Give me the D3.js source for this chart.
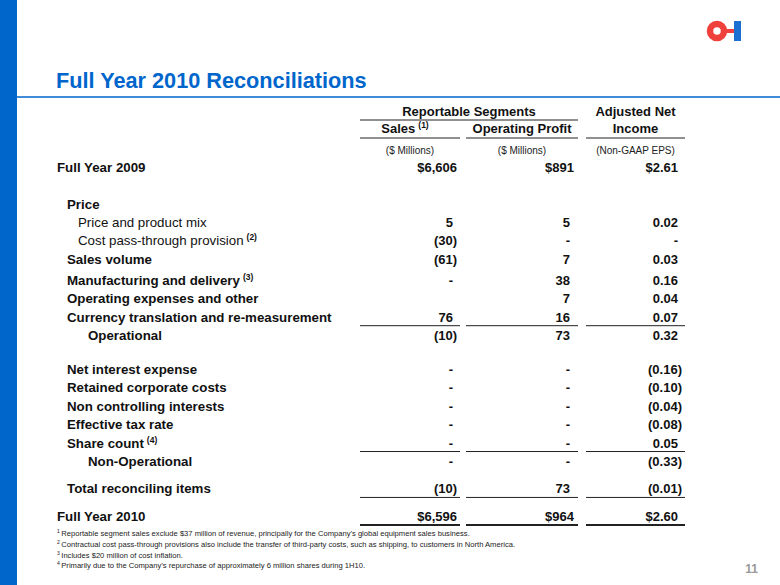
<!DOCTYPE html>
<html>
<head>
<meta charset="utf-8">
<script src="https://cdn.jsdelivr.net/npm/d3@7"></script>
<style>
  body { margin: 0; background: #fff; }
  svg { display: block; font-family: "Liberation Sans", Arial, Helvetica, sans-serif; }
</style>
</head>
<body>
<div id="chart"></div>
<script>
// data
const rowLabels = ["Full Year 2009", "Price", "Price and product mix", "Cost pass-through provision",
  "Sales volume", "Manufacturing and delivery", "Operating expenses and other",
  "Currency translation and re-measurement", "Operational", "Net interest expense",
  "Retained corporate costs", "Non controlling interests", "Effective tax rate", "Share count",
  "Non-Operational", "Total reconciling items", "Full Year 2010"];
const rowNotes = ["", "", "", "(2)", "", "(3)", "", "", "", "", "", "", "", "(4)", "", "", ""];
const salesValues  = [6606, null, 5, -30, -61, 0, null, 76, -10, 0, 0, 0, 0, 0, 0, -10, 6596];
const profitValues = [891, null, 5, 0, 7, 38, 7, 16, 73, 0, 0, 0, 0, 0, 0, 73, 964];
const epsValues    = [2.61, null, 0.02, 0, 0.03, 0.16, 0.04, 0.07, 0.32, -0.16, -0.10, -0.04, -0.08, 0.05, -0.33, -0.01, 2.60];
const columnNames = ["Sales", "Operating Profit", "Income"];
const columnNotes = ["(1)", "", ""];
const columnUnits = ["($ Millions)", "($ Millions)", "(Non-GAAP EPS)"];
const footnotes = [
  ["1", "Reportable segment sales exclude $37 million of revenue, principally for the Company\u2019s global equipment sales business."],
  ["2", "Contractual cost pass-through provisions also include the transfer of third-party costs, such as shipping, to customers in North America."],
  ["3", "Includes $20 million of cost inflation."],
  ["4", "Primarily due to the Company\u2019s repurchase of approximately 6 million shares during 1H10."]
];

// layout (not data)
const rowLevel = [0, 1, 2, 2, 1, 1, 1, 1, 3, 1, 1, 1, 1, 1, 3, 1, 0];
const rowSlot = [0, 2, 3, 4, 5, 6.15, 7.15, 8.15, 9.15, 11, 12, 13, 14, 15, 16, 17.5, 19];
const ruledRows = [7, 13, 15, 16];

const W = 780, H = 585;
const blue = "#0066cc";

const svg = d3.select("#chart").append("svg")
  .attr("width", W).attr("height", H);

// left band and title rule
svg.append("rect").attr("x", 0).attr("y", 0).attr("width", 17).attr("height", H).attr("fill", blue);
svg.append("line").attr("x1", 17).attr("x2", W).attr("y1", 97).attr("y2", 97)
  .attr("stroke", blue).attr("stroke-width", 1.6);

svg.append("text").attr("x", 56).attr("y", 88)
  .attr("font-size", 21.7).attr("font-weight", "bold").attr("fill", blue)
  .text("Full Year 2010 Reconciliations");

// logo
const logo = svg.append("g");
logo.append("circle").attr("cx", 717).attr("cy", 31).attr("r", 7)
  .attr("fill", "none").attr("stroke", "#f0403c").attr("stroke-width", 6.5);
logo.append("rect").attr("x", 726).attr("y", 29).attr("width", 8).attr("height", 4).attr("fill", "#f0403c");
logo.append("rect").attr("x", 734).attr("y", 21).attr("width", 7).attr("height", 20).attr("fill", "#1a6fd0");

// scales
const y = d3.scaleLinear().domain([0, 19]).range([172, 521]);
const colRight = d3.scaleOrdinal().domain([0, 1, 2]).range([457, 574, 682]);
const colLeft = d3.scaleOrdinal().domain([0, 1, 2]).range([360, 466, 586]);
const colEnd = d3.scaleOrdinal().domain([0, 1, 2]).range([460, 578, 685]);
const indent = d3.scaleOrdinal().domain([0, 1, 2, 3]).range([57, 67, 78, 88]);
const colMid = c => (colLeft(c) + colEnd(c)) / 2;

// header
const head = svg.append("g").attr("font-weight", "bold").attr("font-size", 13).attr("fill", "#111");
head.append("text").attr("x", (colLeft(0) + colEnd(1)) / 2).attr("y", 116)
  .attr("text-anchor", "middle").text("Reportable Segments");
head.append("text").attr("x", colMid(2)).attr("y", 116)
  .attr("text-anchor", "middle").text("Adjusted Net");
head.append("line").attr("x1", colLeft(0)).attr("x2", colEnd(1)).attr("y1", 120).attr("y2", 120)
  .attr("stroke", "#222").attr("stroke-width", 1);

columnNames.forEach((name, c) => {
  const t = head.append("text").attr("x", colMid(c) - (columnNotes[c] ? 5 : 0)).attr("y", 133)
    .attr("text-anchor", "middle");
  t.append("tspan").text(name);
  if (columnNotes[c]) {
    t.append("tspan").attr("dx", 3).attr("dy", -5).attr("font-size", 8.5).text(columnNotes[c]);
  }
  head.append("line").attr("x1", colLeft(c)).attr("x2", colEnd(c)).attr("y1", 138).attr("y2", 138)
    .attr("stroke", "#222").attr("stroke-width", 1);
  svg.append("text").attr("x", colMid(c)).attr("y", 154)
    .attr("text-anchor", "middle").attr("font-size", 10).attr("fill", "#222")
    .text(columnUnits[c]);
});

// number formats
function fmt(v, c, isTotal) {
  if (v === null) return "";
  if (v === 0) return "-";
  const s = c === 2 ? d3.format(",.2f")(Math.abs(v)) : d3.format(",")(Math.abs(v));
  if (v < 0) return "(" + s + ")";
  return isTotal ? "$" + s : s;
}

// rows
const rows = svg.append("g").attr("font-size", 13.3).attr("fill", "#111");
rowLabels.forEach((label, i) => {
  const by = y(rowSlot[i]);
  const t = rows.append("text").attr("x", indent(rowLevel[i])).attr("y", by)
    .attr("font-weight", rowLevel[i] === 2 ? "normal" : "bold");
  t.append("tspan").text(label);
  if (rowNotes[i]) {
    t.append("tspan").attr("dx", 3).attr("dy", -5).attr("font-size", 8.5)
      .attr("font-weight", "bold").text(rowNotes[i]);
  }
  const isTotal = label.startsWith("Full Year");
  [salesValues, profitValues, epsValues].forEach((series, c) => {
    const v = series[i];
    const s = fmt(v, c, isTotal);
    if (!s) return;
    const pad = (v < 0 || (isTotal && c < 2)) ? 0 : 4;
    rows.append("text").attr("x", colRight(c) - pad).attr("y", by)
      .attr("text-anchor", "end").attr("font-weight", "bold").attr("font-size", 13).text(s);
  });
  if (ruledRows.includes(i)) {
    [0, 1, 2].forEach(c => {
      rows.append("line").attr("x1", colLeft(c)).attr("x2", colEnd(c))
        .attr("y1", by + 4).attr("y2", by + 4)
        .attr("stroke", "#222").attr("stroke-width", i === 16 ? 2.2 : 1);
    });
  }
});

// footnotes
const foot = svg.append("g").attr("font-size", 7.6).attr("fill", "#222");
footnotes.forEach(([n, txt], i) => {
  const t = foot.append("text").attr("x", 57).attr("y", 536 + i * 10.8);
  t.append("tspan").attr("font-size", 5).attr("dy", -3).text(n);
  t.append("tspan").attr("dx", 1.5).attr("dy", 3).text(txt);
});

svg.append("text").attr("x", 758).attr("y", 573).attr("text-anchor", "end")
  .attr("font-size", 12).attr("font-weight", "bold").attr("fill", "#999").text("11");
</script>
</body>
</html>
